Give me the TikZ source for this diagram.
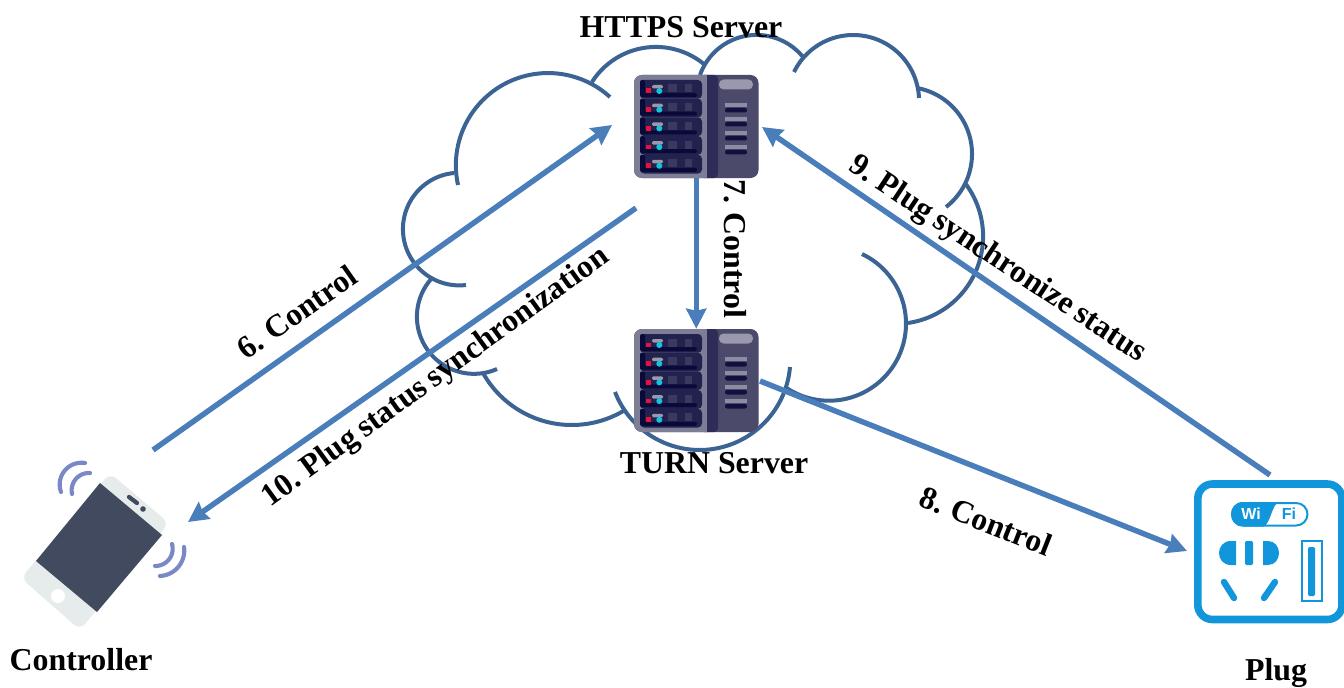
\documentclass[tikz,border=0pt]{standalone}
\usepackage{fontspec}
\setmainfont{Liberation Serif}
\newfontfamily\plugfont{Liberation Sans}
\usetikzlibrary{arrows.meta}
\definecolor{cloudc}{HTML}{3B6494}
\definecolor{arrowc}{HTML}{4A7EBB}
\definecolor{waveC}{HTML}{7B88C6}
\definecolor{phoneB}{HTML}{E6ECEB}
\definecolor{phoneS}{HTML}{414A5F}
\definecolor{plugC}{HTML}{1296DB}
\definecolor{srvP}{HTML}{4B4A6B}
\definecolor{srvD}{HTML}{2E2D58}
\definecolor{srvG}{HTML}{7E7D96}
\definecolor{srvL}{HTML}{9A98AC}
\definecolor{srvI}{HTML}{22224E}
\definecolor{srvB}{HTML}{0A0A3A}
\definecolor{srvQ}{HTML}{3A3A60}
\definecolor{srvR}{HTML}{E8103C}
\definecolor{srvC}{HTML}{12C4DC}
\newcommand{\tightwords}{\spaceskip=0.2em\relax}
\tikzset{
  cloudarc/.style={draw=cloudc,line width=3pt},
  link/.style={draw=arrowc,line width=4.1pt,-{Stealth[length=15pt,width=15pt,inset=1.5pt]}},
  lbl/.style={font=\fontsize{23.9}{26}\selectfont\bfseries,inner sep=0pt,text=black},
  rotlbl/.style={font=\fontsize{23.9}{26}\selectfont\bfseries\tightwords,inner sep=0pt,text=black},
  wave/.style={draw=waveC,line width=3.1pt,line cap=round},
  holder/.style={inner sep=0pt,draw=none}
}
% circular arc through three points, first to last by way of the second
\newcommand{\threearc}[7][cloudarc]{%
  \pgfmathsetmacro\tb{(#4-#2)/100}%
  \pgfmathsetmacro\tc{(#5-#3)/100}%
  \pgfmathsetmacro\td{(#6-#2)/100}%
  \pgfmathsetmacro\te{(#7-#3)/100}%
  \pgfmathsetmacro\tD{2*(\tb*\te-\tc*\td)}%
  \pgfmathsetmacro\tp{\tb*\tb+\tc*\tc}%
  \pgfmathsetmacro\tq{\td*\td+\te*\te}%
  \pgfmathsetmacro\ux{(\te*\tp-\tc*\tq)/\tD}%
  \pgfmathsetmacro\uy{(\tb*\tq-\td*\tp)/\tD}%
  \pgfmathsetmacro\arcR{100*sqrt(\ux*\ux+\uy*\uy)}%
  \pgfmathsetmacro\cxx{#2+100*\ux}%
  \pgfmathsetmacro\cyy{#3+100*\uy}%
  \pgfmathsetmacro\aone{atan2(-\uy,-\ux)}%
  \pgfmathsetmacro\atwo{Mod(atan2(\tc-\uy,\tb-\ux)-\aone,360)}%
  \pgfmathsetmacro\athr{Mod(atan2(\te-\uy,\td-\ux)-\aone,360)}%
  \pgfmathsetmacro\aend{\atwo<\athr ? \aone+\athr : \aone-(360-\athr)}%
  \draw[#1] plot[domain=\aone:\aend,samples=60,variable=\t] ({\cxx+\arcR*cos(\t)},{\cyy+\arcR*sin(\t)});%
}
\newcommand{\serverart}[2]{%
\begin{scope}[shift={(#1,#2)}]
  \fill[srvP,rounded corners=6pt] (0,0) rectangle (124.5,103);
  \fill[srvG] (73,0) {[rounded corners=6pt] -- (0,0) -- (0,103)} -- (73,103) -- cycle;
  \fill[srvD,rounded corners=3pt] (66,0) -- (84,0) -- (84,103) -- (66,103) -- cycle;
  \fill[srvG] (60,0) rectangle (73,103);
  \fill[srvD] (73,0) rectangle (80,103);
  \fill[srvL,rounded corners=3.5pt] (85,4.5) rectangle (119,14.5);
  \foreach \yy in {28,42,56,70}{
    \fill[srvL!85!srvP] (91,\yy) rectangle (113,\yy+4);
    \fill[srvB!80!srvD,rounded corners=1.5pt] (91,\yy+5) rectangle (113,\yy+9.5);
  }
  \foreach \i in {0,1,2,3,4}{
    \begin{scope}[yshift={-\i*18.7*0.75pt}]
      \fill[srvI,rounded corners=3pt] (6,5) rectangle (68,23.7);
      \fill[srvB,rounded corners=1.5pt] (6,5) rectangle (11,22);
      \fill[srvB,rounded corners=1.5pt] (8,18) rectangle (63,22);
      \fill[srvQ] (34,9.5) rectangle (43,17.5);
      \fill[srvQ] (51,9.5) rectangle (58,17.5);
      \fill[srvL,rounded corners=1pt] (18,10) rectangle (29,13.5);
      \fill[srvR] (12,13.5) rectangle (16.8,18.3);
      \fill[srvC] (25.3,16) circle (3);
    \end{scope}
  }
\end{scope}}
\begin{document}
\begin{tikzpicture}[x=0.75pt,y=-0.75pt]
\useasboundingbox (0,0) rectangle (1344,688);

% cloud
\threearc{458}{185}{480}{103}{610}{97}
\threearc{592}{82}{653}{47}{705}{65}
\threearc{700}{75}{754}{35}{803}{57}
\threearc{794}{72}{853}{35}{919}{98}
\threearc{917}{88}{972}{153}{946}{207}
\threearc{965}{183}{983}{240}{908}{323}
\threearc{862}{254}{906}{323}{785}{387}
\threearc{790}{367}{700}{450}{615}{392}
\threearc{625}{410}{573}{425}{483}{373}
\threearc{497}{369}{417}{320}{432}{278}
\threearc{466}{285}{403}{232}{454}{173}

% servers
\serverart{634}{75}
\serverart{634}{329}
\node[holder,minimum width=93.4pt,minimum height=77.25pt] (https) at (696.25,126.5) {};
\node[holder,minimum width=93.4pt,minimum height=77.25pt] (turn) at (696.25,380.5) {};

% phone
\node[holder,minimum width=108pt,minimum height=115pt] (phone) at (95,551) {};
\fill[phoneB,rounded corners=6pt] (110,473) -- (169,523) -- (80,630) -- (21,578) -- cycle;
\fill[phoneS] (100,483) -- (162,535) -- (97,612) -- (36,561) -- cycle;
\draw[phoneS,line width=3.2pt,line cap=round] (129,497) -- (137,503);
\fill[phoneS] (143,509) circle (2.8);
\fill[white] (58,596) circle (7);
\threearc[wave]{85}{463}{63}{473}{61}{492}
\threearc[wave]{90}{473}{75}{480}{72}{494}
\threearc[wave]{172}{544}{170}{558}{155}{566}
\threearc[wave]{184}{547}{181}{563}{160}{576}

% plug
\node[holder,minimum width=112pt,minimum height=107pt] (plugicon) at (1270,551) {};
\draw[plugC,line width=5.7pt,rounded corners=11pt] (1197.8,484) rectangle (1342,619.5);
\fill[white,draw=plugC,line width=1.5pt,rounded corners=8.5pt] (1232,503) rectangle (1307.5,525.5);
\fill[plugC] (1279,502) .. controls (1272,504) and (1271,522) .. (1264,526.5) -- (1243,526.5)
  .. controls (1227,526.5) and (1227,502) .. (1243,502) -- cycle;
\node[holder,text=white,font=\plugfont\fontsize{12}{14}\selectfont\bfseries] (wi) at (1251,514) {Wi};
\node[holder,text=plugC,font=\plugfont\fontsize{12}{14}\selectfont\bfseries] (fi) at (1289,514) {Fi};
\fill[plugC] (1236,541) -- (1231,541) .. controls (1223,541) and (1219,547) .. (1219,553)
  .. controls (1219,559) and (1223,565) .. (1231,565) -- (1236,565) -- cycle;
\fill[plugC,rounded corners=1pt] (1245,541) rectangle (1253,565);
\fill[plugC] (1263,541) -- (1268,541) .. controls (1275,541) and (1279,547) .. (1279,553)
  .. controls (1279,559) and (1275,565) .. (1268,565) -- (1263,565) -- cycle;
\draw[plugC,line width=4.8pt,line cap=round] (1224,582) -- (1234,598);
\draw[plugC,line width=4.8pt,line cap=round] (1275,582) -- (1264,598);
\draw[plugC,line width=1.8pt] (1302,541) rectangle (1322,601);
\fill[plugC,rounded corners=1pt] (1308,547) rectangle (1315,596);

% connector ends
\coordinate (c6a) at (153,450);
\coordinate (c6b) at (612,125);
\coordinate (c10a) at (636,208);
\coordinate (c10b) at (188,522);
\coordinate (c9a) at (1270,475);
\coordinate (c9b) at (762,127);
\coordinate (c8a) at (760,381);
\coordinate (c8b) at (1187,551);

% connectors
\draw[link] (c6a) -- (c6b);
\draw[link] (c10a) -- (c10b);
\draw[link] (c9a) -- (c9b);
\draw[link] (c8a) -- (c8b);
\draw[link] (https.south) -- (turn.north);

% labels
\node[lbl] (lhttps) at (681,27) {HTTPS Server};
\node[lbl] (lturn) at (714,463) {TURN Server};
\node[lbl] (lctl) at (81,660) {Controller};
\node[lbl] (lplug) at (1276,673) {Plug};
\node[rotlbl,rotate=35] (l6) at (297,312) {6. Control};
\node[rotlbl,rotate=-90] (l7) at (735,249) {7. Control};
\node[rotlbl,rotate=-21.5] (l8) at (986,521) {8. Control};
\node[rotlbl,rotate=-33.5] (l9) at (997,260) {9. Plug synchronize status};
\node[rotlbl,rotate=36] (l10) at (436,378) {10. Plug status synchronization};
\end{tikzpicture}
\end{document}
